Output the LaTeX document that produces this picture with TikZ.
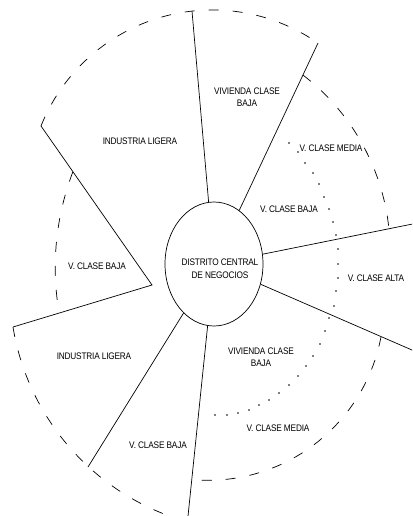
\documentclass[tikz,border=0pt]{standalone}
\usepackage{fontspec}
\newfontfamily\lblfont[FakeStretch=0.87,LetterSpace=-2]{Liberation Sans}
\usetikzlibrary{shapes.geometric}

\begin{document}
\begin{tikzpicture}[x=1pt,y=-1pt,
  zone/.style={font=\lblfont\fontsize{9.5}{12.5}\selectfont, align=center, inner sep=0pt},
  edge/.style={line width=0.7pt},
  ring/.style={line width=0.7pt, dash pattern=on 10pt off 14pt},
  dotmark/.style={fill=black}
]
\useasboundingbox (0,0) rectangle (412,516);
\fill[white] (0,0) rectangle (412,516);
\clip (0,0) rectangle (412,516);

% central business district
\node[ellipse, draw, edge, minimum width=98pt, minimum height=124pt, inner sep=0pt] (cbd) at (214,264) {};
\node[zone] (cbdlabel) at (220,268.5) {DISTRITO CENTRAL\\DE NEGOCIOS};

% outer ends of the sector boundaries
\coordinate (o1) at (192,11);
\coordinate (o2) at (318,43);
\coordinate (o3) at (420,222.5);
\coordinate (o4) at (420,353.5);
\coordinate (o5) at (187.4,522);
\coordinate (o6) at (88,467);
% detached wedge on the west side
\coordinate (wv) at (152,285);
\coordinate (w1) at (41,126);
\coordinate (w2) at (13,327);

\foreach \i in {1,...,6} \draw[edge] (cbd) -- (o\i);
\draw[edge] (w1) -- (wv) -- (w2);

% points where the inner rings meet the boundaries
\coordinate (bw) at (72.8,172);
\coordinate (bse) at (381,336.8);
\coordinate (bne) at (302.9,75);

% dashed rings
\draw[ring] (w1) arc[start angle=201.8, end angle=304.9, radius=184.6];
\draw[ring] (bw) arc[start angle=200.85, end angle=170.2, radius=268.3];
\draw[ring] (w2) arc[start angle=170.7, end angle=105.5, radius=243.1];
\draw[ring] (bse) arc[start angle=10.7, end angle=95, radius=176.2];
\draw[ring] (bne) arc[start angle=-52.5, end angle=-6.15, radius=223];

% dotted ring between middle and high class housing
\foreach \p in {(289,143),(298,152),(305,163),(313,173),(319,184),(324,197),(329,209),
  (333,222),(336,235),(338,249),(338,264),(338,278),(336,291),(334,306),(329,318),
  (325,331),(320,344),(313,356),(306,366),(298,376),(289,385),(279,393),(269,400),
  (259,405),(249,410),(238,413),(227,415),(215,415)}
  \fill[dotmark] \p circle[radius=0.85];

% zone labels
\node[zone] (z1) at (140,141) {INDUSTRIA LIGERA};
\node[zone] (z2) at (247,97) {VIVIENDA CLASE\\BAJA};
\node[zone] (z3) at (331,148) {V. CLASE MEDIA};
\node[zone] (z4) at (289,209) {V. CLASE BAJA};
\node[zone] (z5) at (376,278) {V. CLASE ALTA};
\node[zone] (z6) at (97,266) {V. CLASE BAJA};
\node[zone] (z7) at (94,356) {INDUSTRIA LIGERA};
\node[zone] (z8) at (261,357) {VIVIENDA CLASE\\BAJA};
\node[zone] (z9) at (278,428) {V. CLASE MEDIA};
\node[zone] (z10) at (158,445) {V. CLASE BAJA};
\end{tikzpicture}
\end{document}
